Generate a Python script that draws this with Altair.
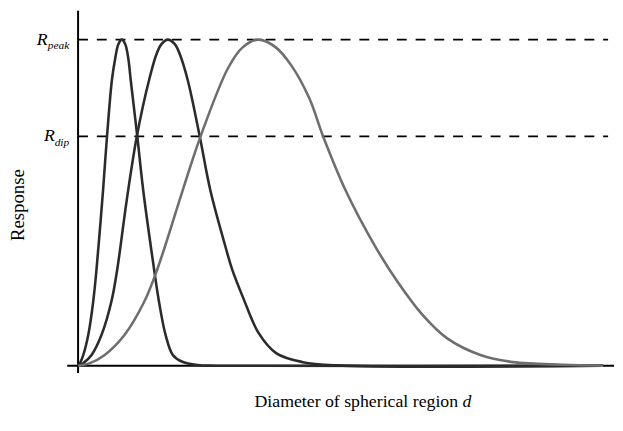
import altair as alt
import pandas as pd

# Curve samples (d in arbitrary units, response normalised so R_peak = 1)
d1 = [0, 0.2, 0.53, 1.03, 1.53, 1.87, 2.53, 2.93, 3.43, 3.75, 4.08, 4.43, 4.78, 5.1, 5.33,
      6.0, 6.6, 7.7, 8.2, 8.87, 9.6, 10.5, 12.1, 14.0, 53.2]
r1 = [0, 0.008, 0.033, 0.094, 0.196, 0.296, 0.538, 0.703, 0.877, 0.94, 0.986, 1.0, 0.986, 0.94, 0.877,
      0.703, 0.538, 0.296, 0.196, 0.094, 0.033, 0.013, 0.002, 0, 0]

d2 = [0, 0.53, 1.37, 2.37, 3.37, 3.97, 4.93, 5.95, 7.2, 7.95, 8.45, 9.1, 9.8, 10.3,
      11.1, 12.33, 13.4, 15.1, 15.6, 16.77, 18.3, 20.1, 22.77, 26.1, 53.2]
r2 = [0, 0.008, 0.033, 0.094, 0.196, 0.296, 0.508, 0.703, 0.877, 0.956, 0.986, 1.0, 0.986, 0.956,
      0.877, 0.703, 0.538, 0.347, 0.296, 0.205, 0.1, 0.038, 0.011, 0.001, 0]

d3 = [0, 1.2, 2.7, 4.7, 6.7, 8.03, 10.6, 12.43, 15.2, 16.7, 18.27, 20.0, 21.6, 23.43, 24.83,
      27.1, 30.1, 32.4, 34.9, 37.4, 40.77, 44.1, 49.1, 53.2]
r3 = [0, 0.008, 0.033, 0.094, 0.196, 0.296, 0.538, 0.705, 0.913, 0.977, 1.0, 0.977, 0.921, 0.82, 0.703,
      0.538, 0.366, 0.256, 0.156, 0.084, 0.033, 0.011, 0.003, 0]

level_names = ["peak", "dip"]
level_values = [1.0, 0.703]
dash_start = 0.0
dash_end = 53.7

x_title = "Diameter of spherical region"
x_title_var = "d"
y_title = "Response"

X_DOMAIN = [-1.1, 54.3]
Y_DOMAIN = [-0.0221, 1.0887]
FONT = "Liberation Serif"

xs = alt.Scale(domain=X_DOMAIN, nice=False, zero=False)
ys = alt.Scale(domain=Y_DOMAIN, nice=False, zero=False)

origin_df = pd.DataFrame({"d": [0.0], "r": [0.0]})
one_df = pd.DataFrame({"k": [0]})

# axes drawn as rules
y_axis = alt.Chart(origin_df).mark_rule(color="black", strokeWidth=2).encode(
    x=alt.X("d:Q", scale=xs, axis=None), y=alt.value(0), y2=alt.value(367))
x_axis = alt.Chart(origin_df).mark_rule(color="black", strokeWidth=2).encode(
    y=alt.Y("r:Q", scale=ys, axis=None), x=alt.value(0), x2=alt.value(554))

levels_df = pd.DataFrame({"name": level_names, "r": level_values,
                          "x0": [dash_start] * 2, "x1": [dash_end] * 2})
dashes = alt.Chart(levels_df).mark_rule(color="black", strokeWidth=1.8, strokeDash=[10, 9]).encode(
    y=alt.Y("r:Q", scale=ys, axis=None),
    x=alt.X("x0:Q", scale=xs, axis=None),
    x2="x1:Q",
)


def curve(d, r, color):
    df = pd.DataFrame({"d": d, "r": r})
    return alt.Chart(df).mark_line(color=color, strokeWidth=2.6, interpolate="catmull-rom").encode(
        x=alt.X("d:Q", scale=xs, axis=None),
        y=alt.Y("r:Q", scale=ys, axis=None),
    )


c1 = curve(d1, r1, "#2b2b2b")
c2 = curve(d2, r2, "#2b2b2b")
c3 = curve(d3, r3, "#6e6e6e")


def level_label(idx, r_dx):
    df = levels_df.iloc[[idx]].assign(R="R")
    sub = alt.Chart(df).mark_text(font=FONT, fontStyle="italic", fontSize=11.5, align="right",
                                  baseline="alphabetic", dx=-9, dy=10, color="black").encode(
        x=alt.X("x0:Q", scale=xs, axis=None), y=alt.Y("r:Q", scale=ys, axis=None), text="name:N")
    big = alt.Chart(df).mark_text(font=FONT, fontStyle="italic", fontSize=18, align="right",
                                  baseline="alphabetic", dx=r_dx, dy=5, color="black").encode(
        x=alt.X("x0:Q", scale=xs, axis=None), y=alt.Y("r:Q", scale=ys, axis=None), text="R:N")
    return sub + big


lab_peak = level_label(0, -31)
lab_dip = level_label(1, -23.5)

xt = alt.Chart(one_df).mark_text(font=FONT, fontSize=18, align="right", baseline="alphabetic",
                                 color="black", text=x_title).encode(
    x=alt.value(396), y=alt.value(402))
xt_d = alt.Chart(one_df).mark_text(font=FONT, fontSize=18, fontStyle="italic", align="left",
                                   baseline="alphabetic", color="black", text=x_title_var).encode(
    x=alt.value(400.5), y=alt.value(402))
yt = alt.Chart(one_df).mark_text(font=FONT, fontSize=19, align="center", baseline="alphabetic",
                                 angle=270, color="black", text=y_title).encode(
    x=alt.value(-44), y=alt.value(197))

chart = alt.layer(
    y_axis, x_axis, dashes, c1, c2, c3, lab_peak, lab_dip, xt, xt_d, yt
).properties(
    width=554, height=367,
    autosize=alt.AutoSizeParams(type="none"),
    padding={"left": 60, "top": 0, "right": 1, "bottom": 48},
).configure_view(stroke=None)

chart.save("out.html", embed_options={"renderer": "svg", "actions": False})
